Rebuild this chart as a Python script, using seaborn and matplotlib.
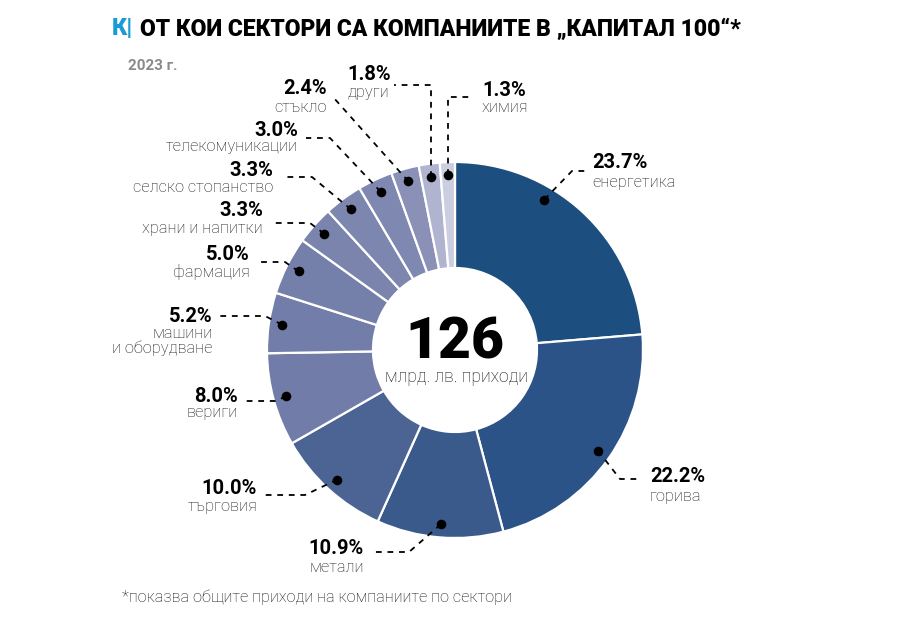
import numpy as np
import pandas as pd
import matplotlib
matplotlib.use("Agg")
import matplotlib.pyplot as plt
import seaborn as sns

# ---------------- data ----------------
sectors = ["енергетика", "горива", "метали", "търговия", "вериги",
           "машини\nи оборудване", "фармация", "храни и напитки",
           "селско стопанство", "телекомуникации", "стъкло", "други", "химия"]
shares = [23.7, 22.2, 10.9, 10.0, 8.0, 5.2, 5.0, 3.3, 3.3, 3.0, 2.4, 1.8, 1.3]
share_labels = ["23.7%", "22.2%", "10.9%", "10.0%", "8.0%", "5.2%", "5.0%",
                "3.3%", "3.3%", "3.0%", "2.4%", "1.8%", "1.3%"]
total_value = "126"
total_unit = "млрд. лв. приходи"
title_mark = "К|"
title_text = "ОТ КОИ СЕКТОРИ СА КОМПАНИИТЕ В „КАПИТАЛ 100“*"
subtitle = "2023 г."
footnote = "*показва общите приходи на компаниите по сектори"

# ---------------- style ----------------
colors = ["#1d4e80", "#2b5387", "#3a5a8c", "#4b6493", "#717ca8", "#727da9",
          "#7580aa", "#7a84ad", "#7c86ae", "#7f88b0", "#8a90b6", "#b1b4d0", "#cbcde0"]

sns.set_theme(style="white")
plt.rcParams["font.family"] = ["Roboto", "DejaVu Sans"]

W, H = 924, 640
fig = plt.figure(figsize=(W / 100, H / 100), dpi=100)
ax = fig.add_axes([0, 0, 1, 1])

def Y(y):
    return H - y

cx, cy = 455, 350
r_out, r_in = 188, 82

df = pd.DataFrame({"sector": sectors, "share": shares, "label": share_labels})

ax.pie(df["share"], radius=r_out, center=(cx, Y(cy)), startangle=90,
       counterclock=False, colors=colors,
       wedgeprops=dict(width=r_out - r_in, edgecolor="white", linewidth=1.6))

ax.set_xlim(0, W)
ax.set_ylim(0, H)
ax.set_aspect("auto")
ax.axis("off")

# position of dot within each wedge (fraction of wedge angle), radius
dot_frac = [0.36] + [0.5] * 12
r_dot = 175
# label layout: text x, alignment, pct y, name y, leader path points (pixel)
layout = [
    (592, "left", 163, 183, [(572, 171), (588, 171)]),
    (650, "left", 477, 496, [(620, 479), (641, 479)]),
    (364, "right", 548, 567, [(409, 552), (372, 552)]),
    (257, "right", 489, 506, [(305, 495), (265, 495)]),
    (238, "right", 397, 413, [(275, 401), (245, 401)]),
    (213, "right", 316, 341, [(265, 316), (220, 316)]),
    (250, "right", 255, 272, [(285, 262), (258, 262)]),
    (263, "right", 211, 228, [(310, 223), (270, 223)]),
    (273, "right", 171, 188, [(312, 177), (282, 177)]),
    (298, "right", 130, 147, [(330, 138), (306, 138)]),
    (327, "right", 89, 107, [(333, 97)]),
    (347, "left", 74, 92, [(None, 85), (394, 85)]),
    (482, "left", 91, 107, [(None, 97), (474, 97)]),
]

cum = np.concatenate([[0], np.cumsum(shares)]) / sum(shares) * 360.0
for i, row in df.iterrows():
    a0, a1 = cum[i], cum[i + 1]
    ang = np.deg2rad(a0 + (a1 - a0) * dot_frac[i])
    dx = cx + r_dot * np.sin(ang)
    dy = cy - r_dot * np.cos(ang)
    tx, ha, py, ny, path = layout[i]
    pts = [(dx, dy)] + [((dx if px is None else px), pyy) for px, pyy in path]
    ax.plot([p[0] for p in pts], [Y(p[1]) for p in pts], color="black",
            lw=1.3, linestyle=(0, (3.2, 3.2)), solid_capstyle="butt", zorder=4)
    ax.scatter([dx], [Y(dy)], s=48, color="black", zorder=5, linewidths=0)
    ax.text(tx, Y(py), row["label"], ha=ha, va="center", fontsize=14.5,
            fontweight="bold", color="black")
    ax.text(tx, Y(ny), row["sector"], ha=ha, va="center", fontsize=11.8,
            fontweight="light", color="#1a1a1a", linespacing=1.0,
            multialignment=ha)

# centre
ax.text(cx, Y(343), total_value, ha="center", va="center", fontsize=41,
        fontweight="black", color="black")
ax.text(cx + 1, Y(377), total_unit, ha="center", va="center", fontsize=12.7,
        fontweight="light", color="#111111")

# title
ax.text(112, Y(29), title_mark, ha="left", va="center", fontsize=17,
        fontweight="black", color="#1a9ad6")
t = ax.text(140, Y(29), title_text, ha="left", va="center", fontsize=17,
            fontweight="black", color="black")
fig.canvas.draw()
wpx = t.get_window_extent().width
t.set_fontsize(17 * 602 / wpx)
ax.text(128, Y(66), subtitle, ha="left", va="center", fontsize=11,
        fontweight="bold", color="#8a8a8a")
ax.text(122, Y(597), footnote, ha="left", va="center", fontsize=11.7,
        fontweight="light", color="#111111")

fig.savefig("out.png", dpi=100)
